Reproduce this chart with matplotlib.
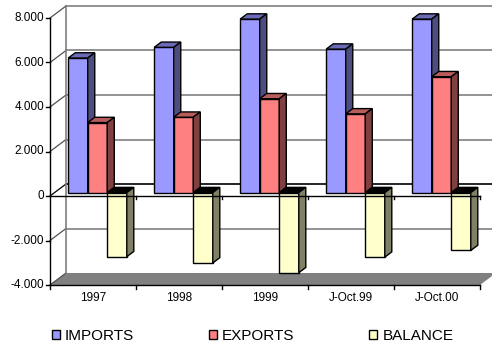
import matplotlib.pyplot as plt
from matplotlib.patches import Polygon, Patch

plt.rcParams['font.family'] = ['Liberation Sans', 'DejaVu Sans']

categories = ['1997', '1998', '1999', 'J-Oct.99', 'J-Oct.00']
imports = [6050, 6530, 7800, 6450, 7800]
exports = [3150, 3390, 4220, 3540, 5210]
balance = [-2880, -3160, -3600, -2900, -2600]
series_names = ['IMPORTS', 'EXPORTS', 'BALANCE']
y_ticks = [-4000, -2000, 0, 2000, 4000, 6000, 8000]
y_ticklabels = ['-4.000', '-2.000', '0', '2.000', '4.000', '6.000', '8.000']

front_colors = ['#9999FF', '#FF8080', '#FFFFCC']
top_colors = ['#6B6BB8', '#B85C5C', '#000000']
side_colors = ['#4D4D80', '#804040', '#808066']

# fake 3d: how far the back wall is shifted (x in categories, y in values)
DX = 16 / 86
DY = 12 / 22.25 * 1000
YMIN, YMAX = -4000, 8000
F0, F1 = 0.28, 0.72        # bar front/back depth
BAR_W = 0.227
GROUP_OFF = (1 - 3 * BAR_W) / 2


def pt(c, v, d):
    return (c + d * DX, v + d * DY)


fig = plt.figure(figsize=(4.92, 3.48), dpi=100)
ax = fig.add_axes([0, 0, 1, 1])
ax.set_xlim(-50 / 86, 442 / 86)
ax.set_ylim(-4000 - 63 / 22.25 * 1000, -4000 + 285 / 22.25 * 1000)
ax.axis('off')

n = len(categories)
grey = '#808080'

# floor
ax.add_patch(Polygon([pt(0, YMIN, 0), pt(n, YMIN, 0), pt(n, YMIN, 1), pt(0, YMIN, 1)],
                     closed=True, facecolor=grey, edgecolor='none', zorder=1))

# back wall gridlines and side wall diagonals
for v in y_ticks:
    col = 'black' if v == 0 else grey
    x0, y0 = pt(0, v, 1)
    x1, y1 = pt(n, v, 1)
    if v != YMIN:
        ax.plot([x0, x1], [y0, y1], color=col, lw=1.2, zorder=1)
    xa, ya = pt(0, v, 0)
    ax.plot([xa, x0], [ya, y0], color='black' if v == 0 else '#505050', lw=0.9, zorder=1)
xb0, yb0 = pt(0, YMIN, 1)
xb1, yb1 = pt(0, YMAX, 1)
ax.plot([xb0, xb1], [yb0, yb1], color=grey, lw=1.2, zorder=1)

# bars
all_series = [imports, exports, balance]
z = 2
for i in range(n):
    for j, vals in enumerate(all_series):
        v = vals[i]
        lo, hi = min(0, v), max(0, v)
        c0 = i + GROUP_OFF + j * BAR_W
        c1 = c0 + BAR_W
        faces = [
            ([pt(c0, lo, F0), pt(c1, lo, F0), pt(c1, hi, F0), pt(c0, hi, F0)], front_colors[j]),
            ([pt(c0, hi, F0), pt(c1, hi, F0), pt(c1, hi, F1), pt(c0, hi, F1)], top_colors[j]),
            ([pt(c1, lo, F0), pt(c1, hi, F0), pt(c1, hi, F1), pt(c1, lo, F1)], side_colors[j]),
        ]
        for verts, fc in faces:
            ax.add_patch(Polygon(verts, closed=True, facecolor=fc, edgecolor='black',
                                 lw=1.0, joinstyle='miter', zorder=z))
        z += 0.01

# front axes
tick_v = 4 / 86
ax.plot([0, 0], [YMIN, YMAX], color='black', lw=1, zorder=10)
ax.plot([0, n], [0, 0], color='black', lw=1, zorder=10)
ax.plot([0, n], [YMIN, YMIN], color='black', lw=1, zorder=10)
for v, lab in zip(y_ticks, y_ticklabels):
    ax.plot([-tick_v, 0], [v, v], color='black', lw=1, zorder=10)
    ax.text(-0.07, v, lab, ha='right', va='center', fontsize=8.5)
for i in range(n + 1):
    ax.plot([i, i], [YMIN, YMIN - 180], color='black', lw=1, zorder=10)
    if i > 0:
        ax.plot([i, i], [0, -140], color='black', lw=1, zorder=10)
for i, lab in enumerate(categories):
    ax.text(i + 0.5, YMIN - 590, lab, ha='center', va='center', fontsize=8.5)

handles = [Patch(facecolor=front_colors[j], edgecolor='black', lw=1, label=series_names[j])
           for j in range(3)]
fig.legend(handles=handles, loc='center left', bbox_to_anchor=(52 / 492, 12 / 348),
           ncol=3, frameon=False, fontsize=11, handlelength=0.5, handleheight=0.5,
           handletextpad=0.35, columnspacing=4.9, borderpad=0, borderaxespad=0)

fig.savefig('out.png', dpi=100)
